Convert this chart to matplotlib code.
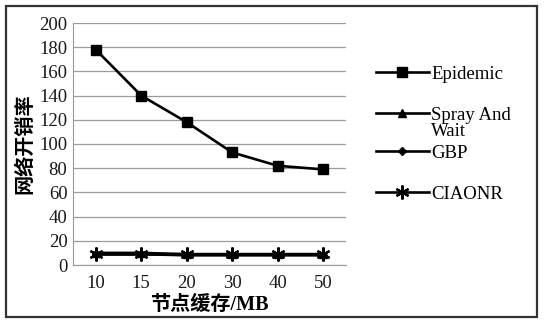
import matplotlib
matplotlib.use("Agg")
import matplotlib.pyplot as plt
from matplotlib.patches import Rectangle

categories = ["10", "15", "20", "30", "40", "50"]
epidemic = [178, 140, 118, 93, 82, 79]
spray_wait = [10, 10, 9, 9, 9, 9]
gbp = [9, 9, 8, 8, 8, 8]
ciaonr = [9, 9, 9, 9, 9, 9]
series_names = ["Epidemic", "Spray And", "GBP", "CIAONR"]
extra_label = "Wait"
y_ticks = [0, 20, 40, 60, 80, 100, 120, 140, 160, 180, 200]

serif = ["Liberation Serif", "DejaVu Serif"]
cjk = ["Liberation Serif", "Noto Sans CJK SC", "DejaVu Sans"]

W, H = 544, 322
fig = plt.figure(figsize=(W / 100, H / 100), dpi=100)
fig.patches.append(Rectangle((6 / W, 5 / H), 531 / W, 311 / H, transform=fig.transFigure,
                             fill=False, edgecolor="#333333", linewidth=1.6))
ax = fig.add_axes([73 / W, (H - 265) / H, 273 / W, 242 / H])
x = list(range(len(categories)))
styles = [(epidemic, "s", 7, 1.0), (spray_wait, "^", 6, 1.0), (gbp, "D", 4, 1.0),
          (ciaonr, (6, 2, 0), 10, 1.6)]
handles = []
for (vals, mk, ms, mew), name in zip(styles, series_names):
    h, = ax.plot(x, vals, color="black", linewidth=1.9, marker=mk, markersize=ms,
                 markeredgewidth=mew)
    handles.append(h)

ax.set_xlim(-0.5, len(categories) - 0.5)
ax.set_ylim(0, 200)
ax.set_yticks(y_ticks)
ax.set_xticks(x)
ax.set_xticklabels(categories)
ax.yaxis.grid(True, color="#9a9a9a", linewidth=0.9)
ax.set_axisbelow(True)
for s in ["top", "right"]:
    ax.spines[s].set_visible(False)
for s in ["left", "bottom"]:
    ax.spines[s].set_color("#9a9a9a")
ax.tick_params(length=0, pad=4)
ax.tick_params(axis="x", pad=7)
for lab in ax.get_xticklabels() + ax.get_yticklabels():
    lab.set_family(serif)
    lab.set_fontsize(13.5)
    lab.set_color("#1a1a1a")
ax.set_ylabel("网络开销率", family=cjk, fontsize=14.5, fontweight="bold", labelpad=3)
ax.set_xlabel("节点缓存/MB", family=cjk, fontsize=14.5, fontweight="bold", labelpad=2)

# legend entries, one per row, placed at the reference row heights
row_y = [74, 115, 153, 194]
legs = []
for h, name, yy in zip(handles, series_names, row_y):
    lg = fig.legend(handles=[h], labels=[name], loc="center left",
                    bbox_to_anchor=(376 / W, (H - yy) / H), frameon=False,
                    handlelength=2.8, handletextpad=0.15, borderpad=0, borderaxespad=0,
                    prop={"family": serif, "size": 13.5})
    legs.append(lg)
fig.canvas.draw()
tx = legs[1].get_texts()[0].get_window_extent()
fig.text(tx.x0 / W, (H - 132) / H, extra_label, family=serif, fontsize=13.5,
         va="center", ha="left")
fig.savefig("out.png", dpi=100)
